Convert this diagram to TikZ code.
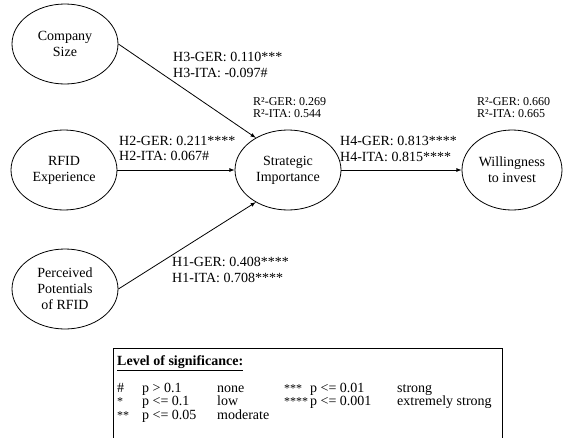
\documentclass[tikz,border=0pt]{standalone}
\usepackage{fontspec}
\setmainfont{Liberation Serif}
\usetikzlibrary{shapes.geometric}
\usetikzlibrary{positioning}

\newcommand{\legstars}[1]{{\fontsize{12}{12}\selectfont #1}}

\begin{document}
\begin{tikzpicture}
    [
    x=1pt, y=-1pt,
    construct/.style={ellipse,draw,line width=0.8pt,inner sep=0pt,minimum width=106pt,minimum height=80pt,align=center,font=\fontsize{14}{16}\selectfont},
    coef/.style={anchor=west,inner sep=0pt,align=left,font=\fontsize{14}{15.5}\selectfont},
    rsq/.style={anchor=west,inner sep=0pt,align=left,font=\fontsize{12}{12}\selectfont},
    link/.style={-latex,line width=0.8pt},
    ]
    \useasboundingbox (0,0) rectangle (563,437);

    \node (size) at (65,44) [construct] {Company\\Size};
    \node (rfid) at (64,170) [construct] {RFID\\Experience};
    \node (potential) at (65,289) [construct] {Perceived\\Potentials\\of RFID};
    \node (strat) at (288,170) [construct] {Strategic\\Importance};
    \node (will) at (512,170) [construct, minimum width=100pt] {Willingness\\to invest};

    \draw [link] (size.east) to (strat.135);
    \draw [link] (rfid) to (strat);
    \draw [link] (potential.east) to (strat.225);
    \draw [link] (strat) to (will);

    \node (h3) at (173,65) [coef] {H3-GER: 0.110***\\H3-ITA: -0.097\#};
    \node (h2) at (119,148.5) [coef] {H2-GER: 0.211****\\H2-ITA: 0.067\#};
    \node (h1) at (172,270) [coef] {H1-GER: 0.408****\\H1-ITA: 0.708****};
    \node (h4) at (340,149) [coef] {H4-GER: 0.813****\\H4-ITA: 0.815****};

    \node (r2strat) at (253,108) [rsq] {R²-GER: 0.269\\R²-ITA: 0.544};
    \node (r2will) at (477,108) [rsq] {R²-GER: 0.660\\R²-ITA: 0.665};

    % legend
    \draw [line width=0.8pt] (113,440) |- (502,348) -- (502,440);
    \node (legtitle) at (117,363) [coef] {\underline{\textbf{Level of significance:}}};
    \node (legtable) at (117,403) [anchor=west,inner sep=0pt,font=\fontsize{14}{12.5}\selectfont]
      {\setlength{\tabcolsep}{0pt}%
       \begin{tabular}{p{25pt}p{75pt}p{67pt}p{26pt}p{87pt}l}
       \# & p > 0.1 & none & \legstars{***} & p <= 0.01 & strong\\
       \legstars{*} & p <= 0.1 & low & \legstars{****} & p <= 0.001 & extremely strong\\
       \legstars{**} & p <= 0.05 & moderate &&&\\
       \end{tabular}};
  \end{tikzpicture}
\end{document}
